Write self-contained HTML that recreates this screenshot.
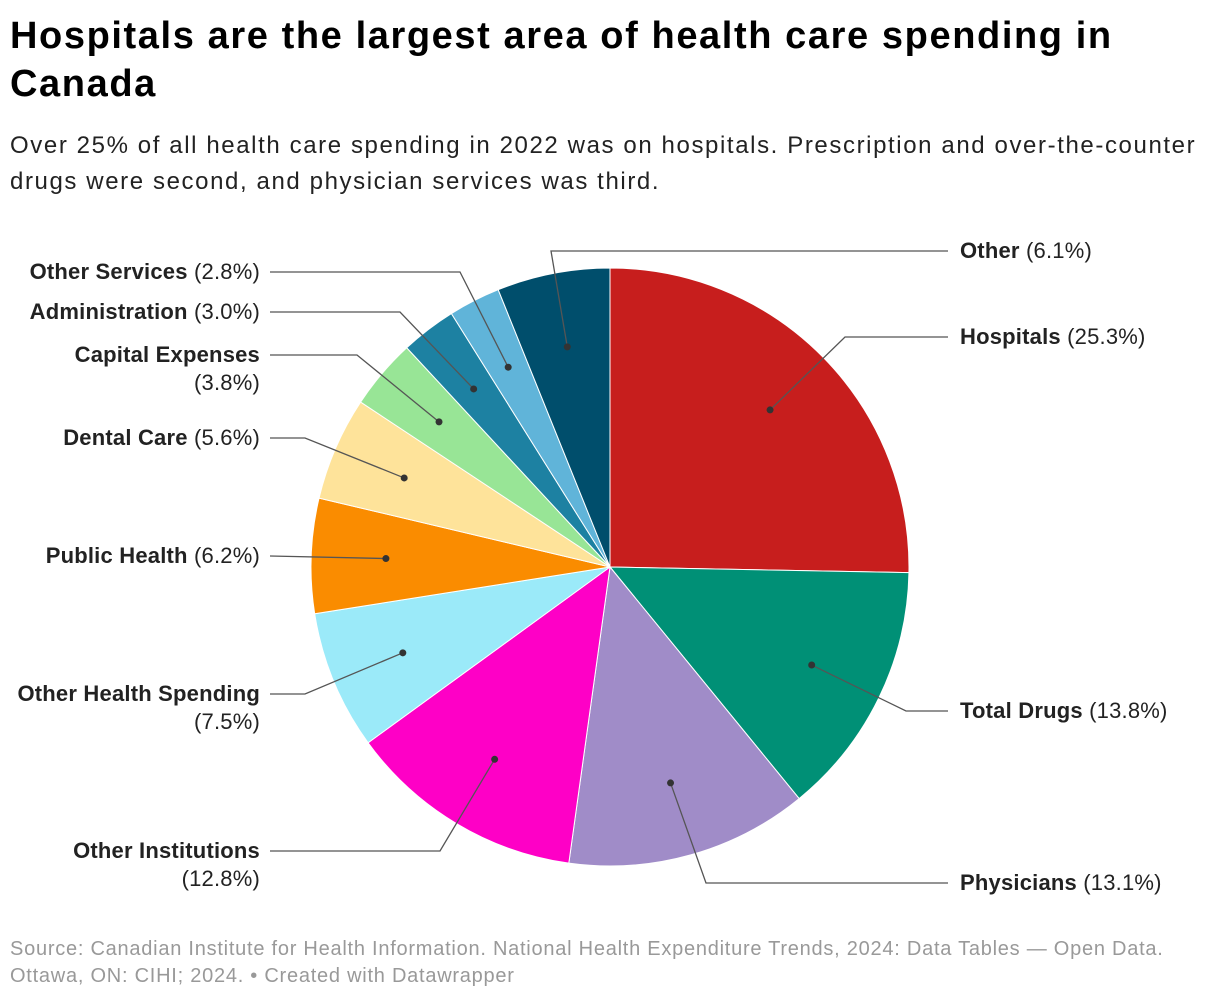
<!DOCTYPE html>
<html><head><meta charset="utf-8"><style>
body{margin:0;background:#fff;font-family:"Liberation Sans",Arial,sans-serif;width:1220px;height:1000px;overflow:hidden;position:relative}
h1{position:absolute;left:10px;top:12px;margin:0;font-size:38px;line-height:48px;font-weight:bold;color:#000;width:1210px;letter-spacing:1.6px;white-space:nowrap}
.sub{position:absolute;left:10px;top:128px;font-size:24px;line-height:36px;color:#222;width:1215px;letter-spacing:1.6px;white-space:nowrap}
.foot{position:absolute;left:10px;top:936px;font-size:20px;line-height:27px;color:#999;letter-spacing:0.75px;white-space:nowrap}
svg{position:absolute;left:0;top:0}
</style></head><body>
<h1>Hospitals are the largest area of health care spending in<br>Canada</h1>
<div class="sub">Over 25% of all health care spending in 2022 was on hospitals. Prescription and over-the-counter<br>drugs were second, and physician services was third.</div>
<svg id="chart" width="1220" height="1000"></svg>
<div class="foot">Source: Canadian Institute for Health Information. National Health Expenditure Trends, 2024: Data Tables — Open Data.<br>Ottawa, ON: CIHI; 2024. • Created with Datawrapper</div>
<script>
const categories=["Hospitals","Total Drugs","Physicians","Other Institutions","Other Health Spending","Public Health","Dental Care","Capital Expenses","Administration","Other Services","Other"];
const values=[25.3,13.8,13.1,12.8,7.5,6.2,5.6,3.8,3.0,2.8,6.1];
const colors=["#c71e1d","#009076","#a08cc8","#fe00c6","#9beaf9","#fa8c00","#fee39a","#98e596","#1d81a2","#60b4d9","#004e6c"];
const labelSide=["r","r","r","l","l","l","l","l","l","l","r"];
const labelY=[337,711,883,851,694,556,438,355,312,272,251];
const elbowX=[845,906,706,440,305,270,305,357,400,460,551];
const labelTwoLine=[false,false,false,true,true,false,false,true,false,false,false];
const NS="http://www.w3.org/2000/svg";
const svg=document.getElementById('chart');
const cx=610,cy=567,R=299;
const total=values.reduce((a,b)=>a+b,0);
function pt(frac,r){const a=frac*2*Math.PI;return [cx+r*Math.sin(a),cy-r*Math.cos(a)];}
let acc=0;
const gs=document.createElementNS(NS,'g');svg.appendChild(gs);
const gl=document.createElementNS(NS,'g');svg.appendChild(gl);
values.forEach((v,i)=>{
  const f0=acc/total,f1=(acc+v)/total;acc+=v;
  const [x0,y0]=pt(f0,R),[x1,y1]=pt(f1,R);
  const p=document.createElementNS(NS,'path');
  p.setAttribute('d',`M${cx},${cy}L${x0},${y0}A${R},${R} 0 ${f1-f0>0.5?1:0} 1 ${x1},${y1}Z`);
  p.setAttribute('fill',colors[i]);p.setAttribute('stroke','#fff');p.setAttribute('stroke-width','1');
  
  
  gs.appendChild(p);
  const [dx,dy]=pt((f0+f1)/2,R*0.75);
  const right=labelSide[i]==='r';
  const ly=labelY[i];
  const endX=right?948:270;
  const line=document.createElementNS(NS,'polyline');
  line.setAttribute('points',`${dx},${dy} ${elbowX[i]},${ly} ${endX},${ly}`);
  line.setAttribute('fill','none');line.setAttribute('stroke','#555');line.setAttribute('stroke-width','1.3');
  
  
  gl.appendChild(line);
  const c=document.createElementNS(NS,'circle');
  c.setAttribute('cx',dx);c.setAttribute('cy',dy);c.setAttribute('r','3.5');c.setAttribute('fill','#333');
  
  
  gl.appendChild(c);
  const t=document.createElementNS(NS,'text');
  t.setAttribute('font-size','22');t.setAttribute('fill','#222');t.setAttribute('letter-spacing','0.2');
  t.setAttribute('x',right?960:260);
  t.setAttribute('text-anchor',right?'start':'end');
  
  
  const pct='('+v.toFixed(1)+'%)';
  if(labelTwoLine[i]){
    t.innerHTML=`<tspan x="260" y="${ly+7}" font-weight="bold">${categories[i]}</tspan><tspan x="260" y="${ly+35}">${pct}</tspan>`;
  }else{
    t.setAttribute('y',ly+7);
    t.innerHTML=`<tspan font-weight="bold">${categories[i]}</tspan> ${pct}`;
  }
  gl.appendChild(t);
});
</script>
</body></html>
